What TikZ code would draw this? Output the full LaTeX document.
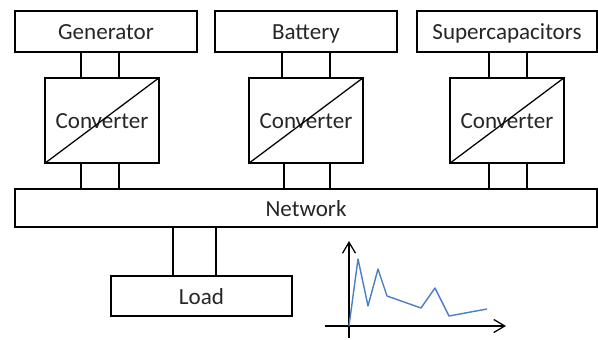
\documentclass[tikz,border=0pt]{standalone}
\usepackage{fontspec}
\setmainfont{Carlito}
\usetikzlibrary{arrows.meta}
\definecolor{profileblue}{RGB}{74,126,200}

\begin{document}
\begin{tikzpicture}[x=0.025cm, y=-0.025cm, line width=0.9pt,
    every node/.style={font=\fontsize{16.4}{19.5}\selectfont, text=black!85,
        text height=13.1pt, text depth=1.3pt},
    box/.style={draw, minimum width=4.55cm, minimum height=1.025cm, inner sep=0pt},
    conv/.style={draw, minimum width=2.85cm, minimum height=2.125cm, inner sep=0pt},
    curve/.style={draw=profileblue, line width=1pt, line join=round}]
    \useasboundingbox (0,0) rectangle (598,340);

    % Sources
    \node[box] (gen) at (106,31.5) {Generator};
    \node[box] (bat) at (306,31.5) {Battery};
    \node[box, minimum width=4.5cm] (sup) at (507,31.5) {Supercapacitors};

    % Converters
    \node[conv] (conv1) at (102,120.5) {Converter};
    \node[conv] (conv2) at (306,120.5) {Converter};
    \node[conv] (conv3) at (507,120.5) {Converter};
    \draw (conv1.south west) -- (conv1.north east);
    \draw (conv2.south west) -- (conv2.north east);
    \draw (conv3.south west) -- (conv3.north east);

    % Network and load
    \node[box, minimum width=14.55cm, minimum height=0.95cm] (net) at (306,208) {Network};
    \node[box, minimum width=4.525cm, minimum height=1cm] (load) at (201.5,296) {Load};

    % Connections
    \draw (gen.south -| 81,0) -- (conv1.north -| 81,0);
    \draw (gen.south -| 119,0) -- (conv1.north -| 119,0);
    \draw (bat.south -| 282,0) -- (conv2.north -| 282,0);
    \draw (bat.south -| 330,0) -- (conv2.north -| 330,0);
    \draw (sup.south -| 489,0) -- (conv3.north -| 489,0);
    \draw (sup.south -| 527,0) -- (conv3.north -| 527,0);
    \draw (conv1.south -| 81,0) -- (net.north -| 81,0);
    \draw (conv1.south -| 119,0) -- (net.north -| 119,0);
    \draw (conv2.south -| 284,0) -- (net.north -| 284,0);
    \draw (conv2.south -| 330,0) -- (net.north -| 330,0);
    \draw (conv3.south -| 489,0) -- (net.north -| 489,0);
    \draw (conv3.south -| 527,0) -- (net.north -| 527,0);
    \draw (net.south -| 173,0) -- (load.north -| 173,0);
    \draw (net.south -| 216,0) -- (load.north -| 216,0);

    % Load profile
    \draw[-{Straight Barb[length=2.75mm, width=3.25mm]}] (325,326) -- (506,326);
    \draw[-{Straight Barb[length=2.75mm, width=3.25mm]}] (349,338) -- (349,241);
    \draw[curve] (349,326) -- (358,259) -- (368,306) -- (378,269) -- (387,296)
        -- (421,308) -- (435,288) -- (449,316) -- (487,309);
\end{tikzpicture}
\end{document}
